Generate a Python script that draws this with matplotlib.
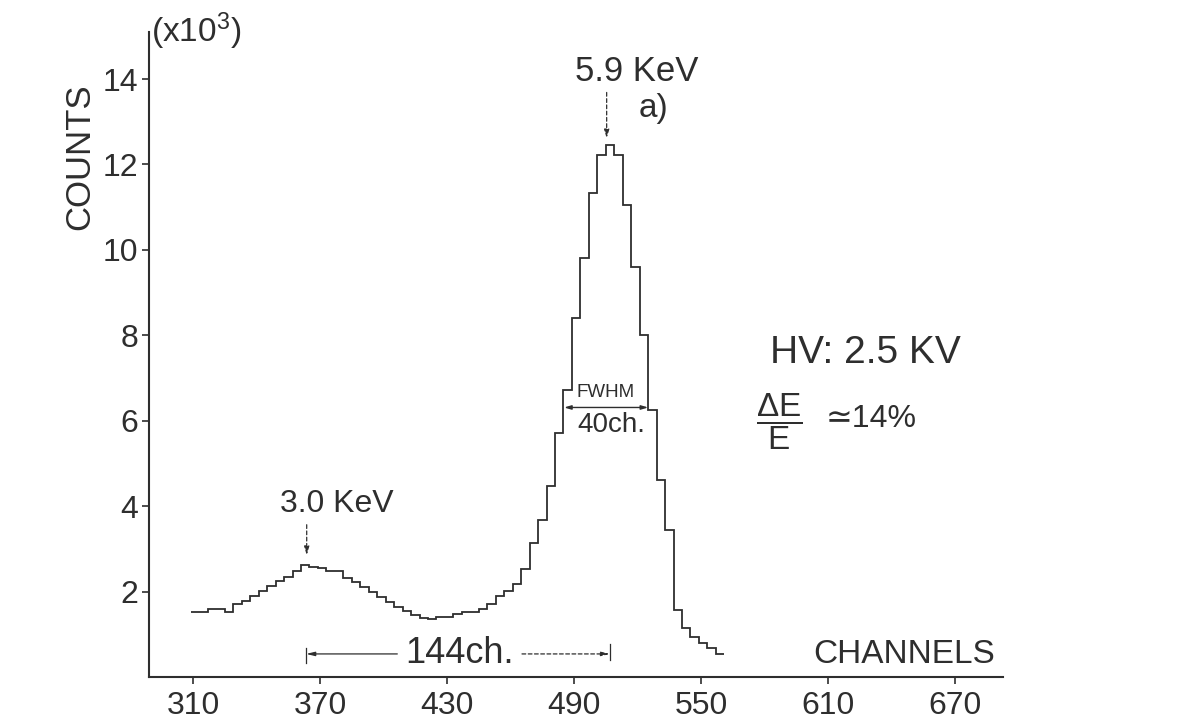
import numpy as np
import matplotlib
matplotlib.use('Agg')
import matplotlib.pyplot as plt

# pulse height spectrum, bins of 4 channels starting at channel 309
bin_start = 309
bin_width = 4
counts_k = [
    1.51, 1.51, 1.59, 1.59, 1.51, 1.70, 1.78, 1.90, 2.02, 2.14, 2.25, 2.35, 2.48, 2.62,
    2.58, 2.56, 2.49, 2.47, 2.31, 2.22, 2.10, 1.98, 1.87, 1.76, 1.64, 1.55, 1.46, 1.38,
    1.35, 1.41, 1.41, 1.47, 1.53, 1.53, 1.60, 1.72, 1.90, 2.02, 2.18, 2.52, 3.14, 3.68,
    4.48, 5.71, 6.72, 8.40, 9.82, 11.33, 12.22, 12.46, 12.22, 11.05, 9.61, 8.01, 6.25, 4.61,
    3.44, 1.57, 1.14, 0.94, 0.79, 0.67, 0.55,
]
x_ticks = [310, 370, 430, 490, 550, 610, 670]
y_ticks = [2, 4, 6, 8, 10, 12, 14]

edges = bin_start + bin_width * np.arange(len(counts_k) + 1)

ink = '#2e2e2e'
plt.rcParams['font.family'] = ['Liberation Sans', 'DejaVu Sans']
plt.rcParams['mathtext.fontset'] = 'custom'
plt.rcParams['mathtext.rm'] = 'Liberation Sans'
plt.rcParams['mathtext.it'] = 'Liberation Sans'
plt.rcParams['mathtext.bf'] = 'Liberation Sans:bold'

fig = plt.figure(figsize=(11.92, 7.26), dpi=100)
ax = fig.add_axes([0.125, 0.0675, 0.7164, 0.8884])

ax.stairs(counts_k, edges, baseline=None, color=ink, linewidth=1.3)

ax.set_xlim(289.2, 692.6)
ax.set_ylim(0, 15.1)
ax.set_xticks(x_ticks)
ax.set_yticks(y_ticks)
for side in ['top', 'right']:
    ax.spines[side].set_visible(False)
for side in ['left', 'bottom']:
    ax.spines[side].set_linewidth(1.5)
    ax.spines[side].set_color(ink)
ax.tick_params(direction='out', length=5, width=1.2, colors=ink, labelsize=23, pad=3)
ax.tick_params(axis='x', pad=5)

fig.text(80 / 1192, 1 - 157 / 726, 'COUNTS', rotation=90, fontsize=25,
         ha='center', va='center', color=ink)
fig.text(151 / 1192, 1 - 31 / 726, '(x10$^{3}$)', fontsize=24,
         ha='left', va='center', color=ink)

# peak labels with dashed arrows
ax.text(519.7, 14.17, '5.9 KeV', fontsize=25, ha='center', va='center', color=ink)
ax.annotate('', xy=(505.4, 12.55), xytext=(505.4, 13.75),
            arrowprops=dict(arrowstyle='-|>,head_length=0.5,head_width=0.15',
                            color=ink, lw=0.9, linestyle=(0, (3, 2))))
ax.text(527.5, 13.3, 'a)', fontsize=24, ha='center', va='center', color=ink)

ax.text(378.0, 4.05, '3.0 KeV', fontsize=23, ha='center', va='center', color=ink)
ax.annotate('', xy=(363.7, 2.79), xytext=(363.7, 3.63),
            arrowprops=dict(arrowstyle='-|>,head_length=0.5,head_width=0.15',
                            color=ink, lw=0.9, linestyle=(0, (3, 2))))

# FWHM
ax.annotate('', xy=(485.3, 6.31), xytext=(525.0, 6.31),
            arrowprops=dict(arrowstyle='<|-|>,head_length=0.4,head_width=0.12',
                            color=ink, lw=1.0, shrinkA=0, shrinkB=0))
ax.text(505.1, 6.67, 'FWHM', fontsize=13.5, ha='center', va='center', color=ink)
ax.text(507.5, 5.90, '40ch.', fontsize=20, ha='center', va='center', color=ink)

# resolution
ax.text(582.6, 7.59, 'HV: 2.5 KV', fontsize=28, ha='left', va='center', color=ink)
ax.text(586.8, 5.97, r'$\dfrac{\Delta E}{E}$', fontsize=24, ha='center', va='center', color=ink)
ax.text(609.0, 6.04, '≃14%', fontsize=23, ha='left', va='center', color=ink)

# distance between the two peaks
ax.text(436.1, 0.56, '144ch.', fontsize=26, ha='center', va='center', color=ink)
ax.annotate('', xy=(363.4, 0.54), xytext=(406.5, 0.54),
            arrowprops=dict(arrowstyle='-|>,head_length=0.5,head_width=0.12',
                            color=ink, lw=0.9, shrinkA=0, shrinkB=0))
ax.annotate('', xy=(507.0, 0.54), xytext=(465.4, 0.54),
            arrowprops=dict(arrowstyle='-|>,head_length=0.5,head_width=0.12',
                            color=ink, lw=0.9, linestyle=(0, (3, 2)), shrinkA=0, shrinkB=0))
ax.plot([363.4, 363.4], [0.33, 0.68], color=ink, lw=0.9)
ax.plot([507.0, 507.0], [0.40, 0.78], color=ink, lw=0.9)

ax.text(645.9, 0.52, 'CHANNELS', fontsize=24, ha='center', va='center', color=ink)

fig.savefig('out.png', dpi=100)
plt.close(fig)
